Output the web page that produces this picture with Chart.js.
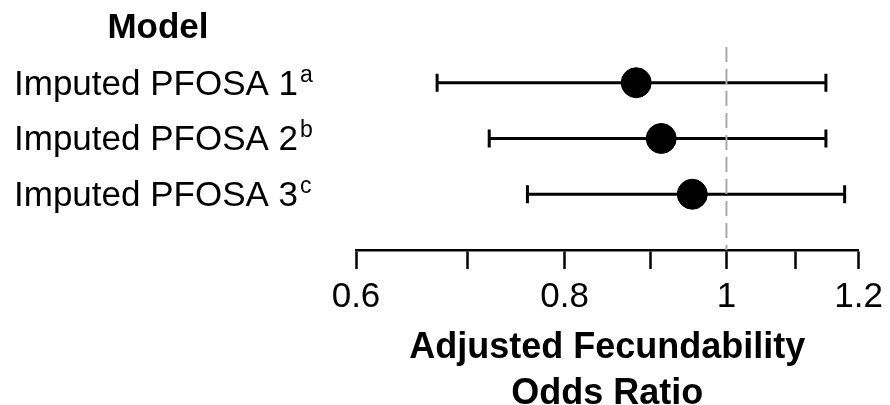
<!DOCTYPE html>
<html>
<head>
<meta charset="utf-8">
<script src="https://cdn.jsdelivr.net/npm/chart.js@4.4.1/dist/chart.umd.min.js"></script>
<style>
	html, body { margin: 0; padding: 0; background: #fff; }
	#wrap { width: 890px; height: 405px; }
</style>
</head>
<body>
<div id="wrap"><canvas id="myChart" width="890" height="405"></canvas></div>
<script>
/*
 * VARIABLES
 */
	var models = ["Imputed PFOSA 1", "Imputed PFOSA 2", "Imputed PFOSA 3"];
	var footnotes = ["a", "b", "c"];
	var oddsRatio = [0.883, 0.914, 0.954];
	var ciLower = [0.671, 0.721, 0.760];
	var ciUpper = [1.147, 1.147, 1.177];
	var tickValues = [0.6, 0.7, 0.8, 0.9, 1.0, 1.1, 1.2];
	var tickLabels = ["0.6", "", "0.8", "", "1", "", "1.2"];
	var refValue = 1;

	var FONT = "'Liberation Sans', Arial, Helvetica, sans-serif";

/*
 * PLUGINS
 */
	/* DRAW - error bars with end caps, under the points */
	var errorBars = {
		id: 'errorBars',
		beforeDatasetsDraw: function(chart) {
			var ctx = chart.ctx, x = chart.scales.x, y = chart.scales.y;
			ctx.save();
			ctx.strokeStyle = '#000';
			ctx.lineWidth = 3;
			for (var i = 0; i < models.length; i++) {
				var py = y.getPixelForValue(i + 1);
				var x0 = x.getPixelForValue(ciLower[i]);
				var x1 = x.getPixelForValue(ciUpper[i]);
				ctx.beginPath();
				ctx.moveTo(x0, py); ctx.lineTo(x1, py);
				ctx.moveTo(x0, py - 9); ctx.lineTo(x0, py + 9);
				ctx.moveTo(x1, py - 9); ctx.lineTo(x1, py + 9);
				ctx.stroke();
			}
			// reference line at OR = 1
			var rx = x.getPixelForValue(refValue);
			ctx.strokeStyle = '#aaaaaa';
			ctx.lineWidth = 2;
			ctx.setLineDash([15, 7]);
			ctx.beginPath();
			ctx.moveTo(rx, chart.chartArea.top + 20);
			ctx.lineTo(rx, chart.chartArea.bottom);
			ctx.stroke();
			ctx.restore();
		}
	};

	/* DRAW - model header and row labels on the left */
	var rowLabels = {
		id: 'rowLabels',
		afterDraw: function(chart) {
			var ctx = chart.ctx, y = chart.scales.y;
			ctx.save();
			ctx.fillStyle = '#000';
			ctx.textBaseline = 'alphabetic';
			ctx.font = 'bold 35px ' + FONT;
			ctx.textAlign = 'center';
			ctx.fillText('Model', 158, 38);
			ctx.textAlign = 'left';
			for (var i = 0; i < models.length; i++) {
				var base = y.getPixelForValue(i + 1) + 12;
				ctx.font = '35px ' + FONT;
				ctx.fillText(models[i], 14, base);
				var w = ctx.measureText(models[i]).width;
				ctx.font = '23px ' + FONT;
				ctx.fillText(footnotes[i], 14 + w + 2, base - 13);
			}
			ctx.restore();
		}
	};

/*
 * CHART
 */
	var points = models.map(function(m, i) {
		return { x: oddsRatio[i], y: i + 1 };
	});

	var myChart = new Chart(document.getElementById('myChart'), {
		type: 'scatter',
		data: {
			datasets: [{
				data: points,
				backgroundColor: '#000',
				borderColor: '#000',
				pointRadius: 15,
				pointHoverRadius: 15
			}]
		},
		options: {
			responsive: false,
			animation: false,
			layout: {
				padding: { left: 356, right: 30, top: 27, bottom: 0 }
			},
			plugins: {
				legend: { display: false },
				tooltip: { enabled: false }
			},
			scales: {
				x: {
					type: 'logarithmic',
					min: 0.6,
					max: 1.2,
					afterBuildTicks: function(scale) {
						scale.ticks = tickValues.map(function(v) { return { value: v }; });
					},
					border: { display: true, color: '#000', width: 2.5 },
					grid: {
						drawOnChartArea: false,
						drawTicks: true,
						tickLength: 19,
						tickWidth: 2.5,
						tickColor: '#000'
					},
					ticks: {
						autoSkip: false,
						maxRotation: 0,
						padding: 7,
						color: '#000',
						font: { family: FONT, size: 35 },
						callback: function(value) {
							var idx = tickValues.indexOf(Math.round(value * 10) / 10);
							return idx >= 0 ? tickLabels[idx] : '';
						}
					},
					title: {
						display: true,
						text: ['Adjusted Fecundability', 'Odds Ratio'],
						color: '#000',
						font: { family: FONT, size: 36, weight: 'bold', lineHeight: 1.278 },
						padding: { top: 0, bottom: -12 }
					}
				},
				y: {
					type: 'linear',
					display: false,
					reverse: true,
					min: 0,
					max: 4.0
				}
			}
		},
		plugins: [errorBars, rowLabels]
	});
</script>
</body>
</html>
